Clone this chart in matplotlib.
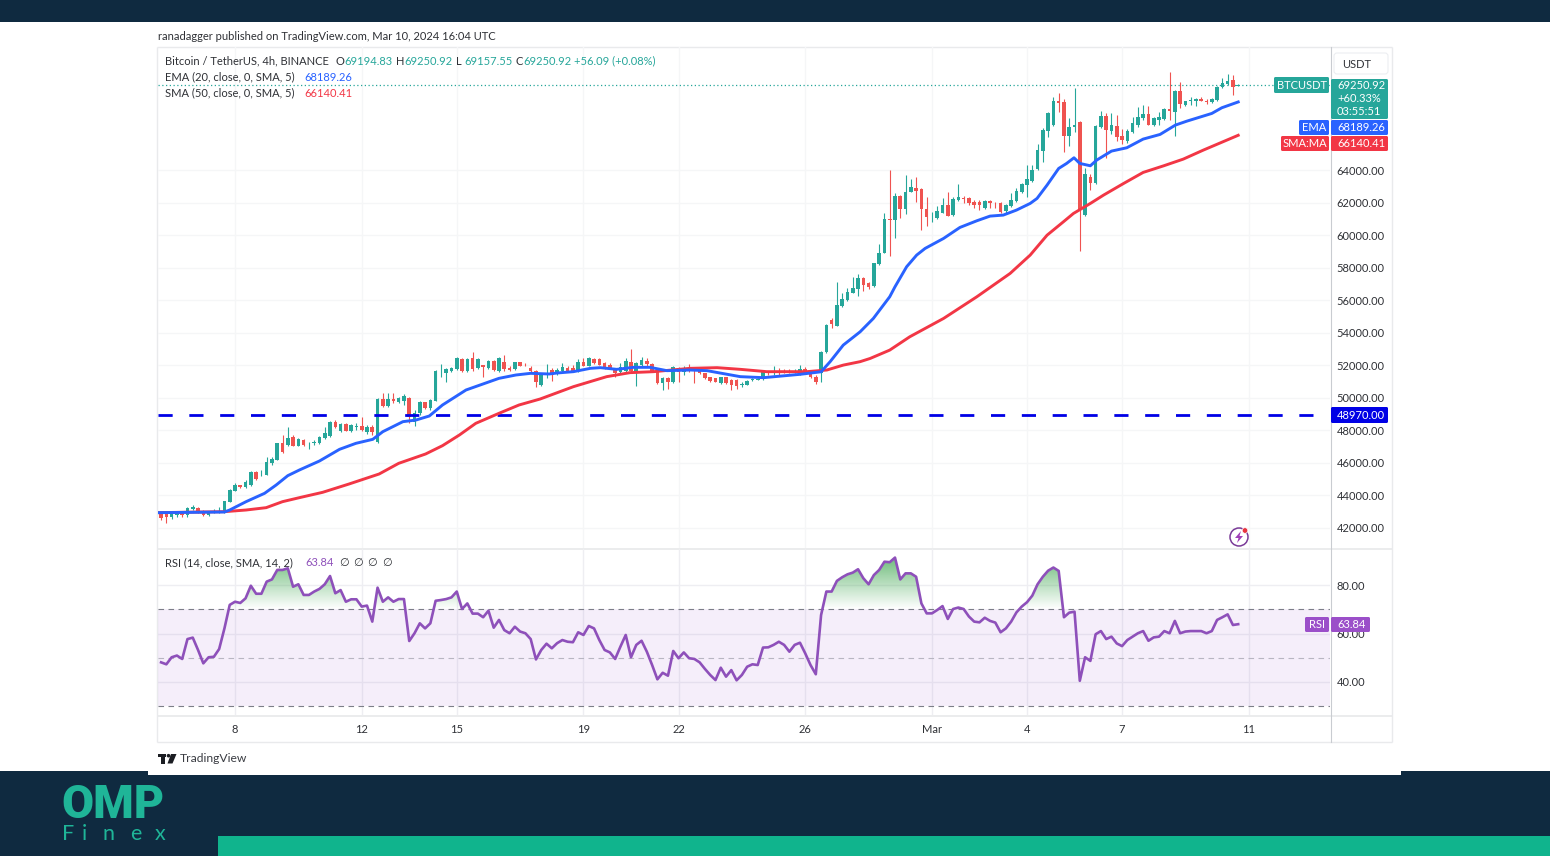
import numpy as np
import matplotlib
matplotlib.use("Agg")
import matplotlib.pyplot as plt
from matplotlib.patches import Rectangle, Polygon, Circle, FancyBboxPatch, PathPatch
from matplotlib.path import Path

# ---------- data ----------
candle_index = list(range(-14, 191))
opens = [42940,42900,42650,42780,42980,42780,43190,43250,43050,42800,42960,42980,43000,43620,
 44300,44620,44500,44620,45460,45240,45260,45980,46180,47200,47100,47570,47060,47410,47200,47200,47250,47510,47650,48540,47980,48390,47980,48230,48270,47920,48230,47310,49910,49500,49910,49770,49830,50010,48540,49050,49720,49360,49830,51630,51510,51670,51750,52370,51670,52430,51810,52000,51810,52290,51670,52230,51810,51750,52180,52040,51860,51670,50790,51400,
 51710,51470,51670,51850,51850,51670,52230,51980,52390,52370,52120,52020,51750,51610,51670,52230,51670,52020,52290,52060,51610,50890,51200,51000,51810,51610,51810,51750,51670,51550,51300,51200,50890,51260,51100,51100,50770,50810,51100,51100,51140,51550,51510,51630,51670,51670,51550,51570,51750,51550,51300,
 51500,52830,54780,54430,55660,56010,56460,56670,57340,57030,56870,58220,58920,60990,60950,62400,61580,62670,62930,62810,61580,61170,61070,61380,61850,61230,62160,62300,62300,62050,62050,61700,62110,61990,61990,61500,61810,62110,62670,63080,63320,
 64060,65170,66400,66800,68240,68160,66110,66620,66930,61230,63590,63180,66620,67340,66400,66730,66110,65780,66360,66800,67180,67440,66800,67110,67130,67750,67590,68860,68000,68240,68240,68400,68260,68200,68300,69120,69270,69530,69194.83]
closes = [42590,42700,42860,42900,42780,43210,43270,43000,42800,42960,43020,43060,43640,44340,
 44620,44540,44850,45460,45010,45280,46080,46220,47200,46670,47550,47060,47470,47100,47250,47300,47570,47820,48540,48210,48390,47980,48330,48290,48020,48230,47920,49910,49500,49910,49830,49970,50110,48800,49050,49750,49360,49870,51670,51670,51750,51810,52430,51670,52370,51750,52370,51920,52290,51710,52430,51750,51710,52180,51980,52000,51670,51000,51400,51510,
 51400,51710,51920,51670,51670,52230,51980,52430,52120,52040,51850,51850,51510,51870,52290,51670,52120,52330,52060,51670,50890,51200,51000,51870,51610,51850,51670,51670,51510,51240,51060,51000,51260,50890,50790,50730,50850,51060,51160,51180,51570,51510,51610,51570,51550,51570,51670,51750,51550,51300,51000,
 52830,54470,54570,55700,56070,56520,56750,57340,56930,56830,58260,58920,60970,60950,62400,61580,62670,62980,62730,61580,61130,61170,61480,61850,61190,62200,62360,62200,61950,61850,61850,62110,61990,61950,61440,61850,62160,62710,63120,63450,64000,
 65230,66460,67480,68260,68100,66110,66660,66770,61540,63730,63180,66700,67340,66460,66770,66050,65840,66400,66870,67260,67440,66800,67180,67280,67750,67630,68860,68040,68240,68300,68340,68240,68160,68360,69120,69330,69470,69120,69250.92]
highs = [42950,42940,42940,42960,43060,43310,43410,43310,43100,43000,43150,43310,43680,44380,
 44790,44640,44950,45480,45500,45570,46380,46340,47250,47720,48230,47720,47550,47450,47300,47410,47650,48190,48580,48640,48470,48430,48410,48430,48840,48350,48330,49970,50320,50280,50320,50070,50240,50070,49250,49780,49750,49930,51710,52080,51820,51920,52490,52430,52470,52800,52430,52040,52330,52330,52490,52640,51960,52220,52220,52120,51950,51710,51510,52060,
 51850,51810,52120,51960,52020,52390,52470,52530,52470,52430,52200,52120,51810,52120,52430,53020,52220,52530,52430,52120,51670,51300,51300,51960,51870,51960,52060,51810,51670,51410,51200,51080,51300,51080,51140,51140,50970,51100,51200,51220,51670,51670,51960,51850,51750,51750,51790,51990,51870,51390,51380,
 52880,54530,54880,57100,56420,56770,57400,57610,57400,57100,58300,59450,61380,64000,62610,62450,63690,63430,63550,62880,62320,61440,61790,62260,62630,62360,63120,62400,62360,62150,62150,62150,62150,62050,62050,61890,62610,62930,63220,64310,64310,
 65580,66600,67580,68510,68710,68400,67180,69020,67010,64100,63730,66760,67630,67540,67480,67380,66520,66520,67280,67890,68000,67950,67240,67590,67830,70000,68920,69390,68100,68510,68450,68510,68340,68440,69180,69680,69880,69840,69270]
lows = [42500,42330,42570,42700,42700,42650,43100,42940,42740,42740,42900,42940,42940,43580,
 44250,44480,44460,44580,44950,45210,45230,45870,46150,46630,47060,47010,47020,47060,46840,47100,47160,47460,47600,48170,47920,47940,47920,48000,47970,47780,47720,47200,49420,49420,49680,49700,49580,48430,48270,48950,49310,49250,49790,51300,51000,51620,51700,51620,51620,51670,51750,51300,51760,51660,51620,51670,51660,51700,51940,51950,51620,50650,50730,51240,
 51050,51400,51620,51620,51620,51620,51940,51940,52070,51990,51790,51790,51300,51550,51620,51550,50750,51980,51980,51620,50850,50500,50540,50890,51000,51400,51620,50930,51450,51180,51000,50950,50830,50850,50500,50570,50670,50770,51040,51090,51090,51410,51410,51410,51500,51510,51510,51410,51510,51240,50850,
 50990,52770,54310,54390,55600,55970,56420,56260,56580,56690,56830,58180,58880,58710,59800,61030,61330,62630,62050,60310,60560,60780,61020,61340,61150,61190,62120,61950,61850,61640,61540,61620,61700,61700,61340,61380,61750,62050,62610,62320,63240,
 64000,64510,66050,66720,67545,65130,65500,66360,59020,61190,62770,63120,66560,64760,66190,65780,65600,65660,66300,66660,67080,66750,66740,66800,67070,67070,66110,67830,67950,67990,67950,68240,68080,68130,68260,69060,69220,68610,69157.55]

ema_index = [-14.6,-2,-1,2.1,5.6,7.8,10,12.2,16,19.8,22.9,26.1,28,31.8,34.3,36.8,39.3,43.75,50,53.2,56,59.5,
 61,64.1,67.3,69.2,72.3,75.5,78.6,81.8,86.2,89.4,95.7,100.1,107,111,112.7,115.2,118.4,120.9,124,125,127.2,129.1,130.7,134.2,137.3,140.5,143,145.5,148,150.6,151.9,153.8,156,157.5,158.9,160,162,163.2,166,168.9,172,175.2,178.1,180.3,185,186.9,190]
ema_values = [42943,42984,43107,43619,44132,44644,45218,45566,46119,46837,47205,47451,47922,48536,48639,48885,49561,50483,51200,51405,51508,51467,
 51528,51610,51815,51856,51753,51876,51876,51671,51712,51671,51303,51241,51446,51603,52218,53243,54062,54882,56214,56829,58058,58775,59185,59800,60476,60885,61172,61234,61541,61951,62258,63078,64102,64410,64758,64410,64266,64615,65168,65373,65906,66192,66766,67012,67483,67832,68189.26]
sma_index = [-14.6,-2,2.1,5.9,9,12.2,16.6,21.6,27.3,31,36.1,39.3,42.5,45.6,50,53.8,57.8,64.1,70.4,74.8,79.3,86.2,91.3,95.7,100.7,108.3,112.1,115.2,118.4,120.3,124,127.8,134.2,140.5,146.8,150.6,153.8,156.9,158.8,162,164.5,168.3,172,175.9,179.6,183.4,190]
sma_values = [42943,43004,43106,43250,43619,43865,44193,44705,45320,45975,46550,47061,47717,48434,49050,49562,49930,50688,51303,51549,51610,51815,51856,51753,51610,51610,51712,52013,52225,52423,52935,53755,54882,56214,57648,58775,60000,60824,61336,61951,62463,63180,63857,64266,64676,65230,66140.41]
rsi_values = [48.1,47.3,50.2,50.9,49.5,57.7,58.3,53.2,47.7,50.2,50.4,53.6,62.1,71.8,73.1,72.6,74.5,79.7,76.4,76.4,81.4,82.3,86.2,86.2,86.9,79.3,80.3,75.9,75.9,77.3,78.4,80.3,83.7,76.6,77.9,73.1,74.1,74.1,71.1,71.5,64.9,78.9,73.1,74.9,73.1,74.2,74.2,56.9,60.1,64.2,62.1,64.2,73.5,73.8,74.2,74.9,77.3,70.1,72.4,68.2,68.2,66.7,69.4,62.4,65.6,61.4,60.1,62.8,60.8,60.1,57.7,49.3,53.2,55.8,53.9,56,57.3,56.6,56.4,60.5,59.4,63.1,62.1,57.3,53.2,52.2,49.5,54.6,59.4,50.2,55.3,57,
 52.5,47,41.1,43.8,42.6,52.8,49.8,52.2,49.8,49.5,48.1,45.4,42.9,40.8,45.9,42.2,44.9,40.7,42.9,46.3,47.3,47,54.2,54.3,55.3,56.6,55.3,52.5,55.3,56.2,51.8,47,43.2,67.6,77.3,77.3,81.7,83.2,84.4,85.1,86.5,82.8,80.3,84.1,86.2,89.6,89.4,91.3,82.3,84.8,84.8,83.4,72.4,68.3,68.3,69.7,71.3,66,70.1,70.7,70.1,67,64.9,64.6,66.5,65.2,64.5,60.5,62.1,64.9,68.7,71.1,72.9,75.6,80.3,83.4,85.9,87.2,85.8,66.7,68.6,69,40.5,50.2,48.7,59.7,61,57.7,58.7,55.9,54.8,57.3,58.7,60.1,
 61,57,58.4,58.7,61,60.1,65.2,60.1,60.8,61,61,61,60.1,61,65.6,66.7,67.9,63.5,63.84]
support_level = 48970
last_close = 69250.92
price_ticks = [42000,44000,46000,48000,50000,52000,54000,56000,58000,60000,62000,64000]
rsi_ticks = [40,60,80]
rsi_levels = [30,50,70]
date_ticks = [0,24,42,66,84,108,132,150,168,192]
date_labels = ["8","12","15","19","22","26","Mar","4","7","11"]

# ---------- style ----------
W, H = 1550, 856
NAVY = "#0f2a40"; TEAL = "#10b48d"; LOGO = "#1fb598"
UP = "#26a69a"; DOWN = "#ef5350"; BLUE = "#2962ff"; RED = "#f23645"; PURPLE = "#8e50ba"
GRID = "#f5f6f7"; FRAME = "#e9eaec"; TXT = "#2f3136"
FONT = "Lato"
plt.rcParams["font.family"] = [FONT, "DejaVu Sans"]
FS = 8.05

fig = plt.figure(figsize=(W/100, H/100), dpi=100, facecolor="white")

def px_axes(x0, y0, x1, y1, z):
    a = fig.add_axes([x0/W, 1-y1/H, (x1-x0)/W, (y1-y0)/H], zorder=z)
    return a

bg = px_axes(0, 0, W, H, 0); bg.set_xlim(0, W); bg.set_ylim(H, 0); bg.axis("off")
fg = px_axes(0, 0, W, H, 10); fg.set_xlim(0, W); fg.set_ylim(H, 0); fg.axis("off"); fg.patch.set_alpha(0)

def rect(a, x0, y0, x1, y1, c, **k):
    a.add_patch(Rectangle((x0, y0), x1-x0, y1-y0, fc=c, ec="none", **k))

rect(bg, 0, 0, W, 22, NAVY)
rect(bg, 0, 771, 148, H, NAVY)
rect(bg, 148, 775, W, H, NAVY)
rect(bg, 1401, 771, W, 775, NAVY)
rect(bg, 218, 836, W, H, TEAL)

# chart frame
for (x0, y0, x1, y1, lw) in [(157, 47, 1392, 47, 1.0), (157, 742, 1392, 742, 1.0), (157, 47, 157, 742, 1.0),
                             (1392, 47, 1392, 742, 1.0), (157, 548.5, 1392, 548.5, 1.3), (157, 715.5, 1392, 715.5, 1.3)]:
    bg.plot([x0, x1], [y0, y1], color=FRAME, lw=lw, solid_capstyle="butt")
bg.plot([1330.5, 1330.5], [47, 742], color="#c9ccd1", lw=0.8)

# ---------- price pane ----------
LEFT, RIGHT = 158, 1330
PT, PB = 47, 548
RT, RB = 549, 715
x_of = lambda px: (px-235)/5.28
y_price = lambda py: 42000+(528-py)*61.47
y_rsi = lambda py: 80-(py-585)/2.425

ax = px_axes(LEFT, PT, RIGHT, PB, 2)
ax.set_xlim(x_of(LEFT), x_of(RIGHT)); ax.set_ylim(y_price(PB), y_price(PT))
ax.patch.set_alpha(0)
ax.set_yticks(price_ticks); ax.set_yticklabels([f"{v:.2f}" for v in price_ticks])
ax.yaxis.tick_right(); ax.set_xticks(date_ticks); ax.tick_params(axis="x", length=0, labelbottom=False)
ax.tick_params(axis="y", length=0, pad=4.6, labelsize=FS, labelcolor=TXT)
ax.grid(True, color=GRID, lw=1.0); ax.set_axisbelow(True)
for s in ax.spines.values(): s.set_visible(False)

o, c, h, l = map(np.array, (opens, closes, highs, lows))
idx = np.array(candle_index)
cols = [UP if cc >= oo else DOWN for oo, cc in zip(o, c)]
ax.vlines(idx, l, h, colors=cols, lw=0.8, zorder=3)
ax.bar(idx, np.maximum(np.abs(c-o), 35), bottom=np.minimum(o, c), width=0.68, color=cols, lw=0, zorder=3)
ax.plot(ax.get_xlim(), [last_close]*2, color=UP, lw=0.9, ls=(0, (1, 2)), zorder=2)
ax.plot(ax.get_xlim(), [support_level]*2, color="#0000e6", lw=2.0, ls=(0, (5.1, 6.0)), zorder=4, dash_capstyle="butt")
ax.plot(sma_index, sma_values, color=RED, lw=2.1, zorder=5, solid_joinstyle="round")
ax.plot(ema_index, ema_values, color=BLUE, lw=2.1, zorder=6, solid_joinstyle="round")

# ---------- RSI pane ----------
ar = px_axes(LEFT, RT, RIGHT, RB, 2)
ar.set_xlim(x_of(LEFT), x_of(RIGHT)); ar.set_ylim(y_rsi(RB), y_rsi(RT))
ar.patch.set_alpha(0)
ar.set_yticks(rsi_ticks); ar.set_yticklabels([f"{v:.2f}" for v in rsi_ticks])
ar.yaxis.tick_right()
ar.set_xticks(date_ticks); ar.set_xticklabels(date_labels)
ar.tick_params(axis="y", length=0, pad=4.6, labelsize=FS, labelcolor=TXT)
ar.tick_params(axis="x", length=0, pad=6.5, labelsize=FS, labelcolor=TXT)
ar.grid(True, color="#eeeef2", lw=1.0); ar.set_axisbelow(True)
for s in ar.spines.values(): s.set_visible(False)
ar.axhspan(rsi_levels[0], rsi_levels[2], color="#8e44c8", alpha=0.085, lw=0, zorder=1)
for lev, col in zip(rsi_levels, ["#7c7e88", "#b8b6c2", "#7c7e88"]):
    ar.axhline(lev, color=col, lw=0.8, ls=(0, (5, 4)), zorder=2)
rsi_idx = np.array(candle_index); rsi = np.array(rsi_values)
# green gradient over the 70 level, clipped under the line
poly = ar.fill_between(rsi_idx, 70, rsi, where=rsi >= 70, interpolate=True, color="none", lw=0)
grad = np.zeros((256, 1, 4))
grad[..., 0], grad[..., 1], grad[..., 2] = 0.18, 0.62, 0.25
grad[:, 0, 3] = np.linspace(0.72, 0, 256)
im = ar.imshow(grad, extent=[rsi_idx[0], rsi_idx[-1], 70, 92], origin="upper", aspect="auto", zorder=2.5)
merged = Path.make_compound_path(*poly.get_paths())
im.set_clip_path(PathPatch(merged, transform=ar.transData))
ar.set_xlim(x_of(LEFT), x_of(RIGHT)); ar.set_ylim(y_rsi(RB), y_rsi(RT))
ar.plot(rsi_idx, rsi, color=PURPLE, lw=1.9, zorder=4, solid_joinstyle="round")

# ---------- texts ----------
def t(x, y, s, color=TXT, ha="left", size=FS, **k):
    fg.text(x, y, s, color=color, ha=ha, va="center", fontsize=size, **k)

t(158, 36, "ranadagger published on TradingView.com, Mar 10, 2024 16:04 UTC")
t(165, 61, "Bitcoin / TetherUS, 4h, BINANCE")
for x, letter, val in [(336, "O", "69194.83"), (396, "H", "69250.92"), (456, "L", "69157.55"), (515, "C", "69250.92")]:
    t(x, 61, letter); t(x+8.5, 61, val, color=UP)
t(574, 61, "+56.09 (+0.08%)", color=UP)
t(165, 77, "EMA (20, close, 0, SMA, 5)"); t(304, 77, "68189.26", color=BLUE)
t(165, 93, "SMA (50, close, 0, SMA, 5)"); t(304, 93, "66140.41", color=RED)
t(165, 563, "RSI (14, close, SMA, 14, 2)"); t(305, 563, "63.84", color=PURPLE)
for x in (344, 358, 372, 387):
    fg.text(x, 563, "\u2205", color=TXT, ha="center", va="center", fontsize=FS, family="DejaVu Sans")

# price scale labels
fg.add_patch(FancyBboxPatch((1334, 53), 54, 21, boxstyle="round,pad=0,rounding_size=3", fc="white", ec="#eceef1", lw=0.8))
t(1342, 64, "USDT")
def box(x0, y0, x1, y1, c): fg.add_patch(FancyBboxPatch((x0, y0), x1-x0, y1-y0, boxstyle="round,pad=0,rounding_size=1.5", fc=c, ec="none"))
box(1274, 77, 1329, 93, UP); t(1301.5, 85, "BTCUSDT", color="white", ha="center")
box(1331, 79, 1388, 119, UP)
t(1337, 85, "69250.92", color="white")
t(1337, 98, "+60.33%", color="white")
t(1337, 111.5, "03:55:51", color="white")
box(1299, 120, 1329, 135, BLUE); t(1314, 127.5, "EMA", color="white", ha="center")
box(1331, 120, 1388, 135, BLUE); t(1337, 127.5, "68189.26", color="white")
box(1281, 136, 1329, 151, RED); t(1305, 143.5, "SMA:MA", color="white", ha="center")
box(1331, 136, 1388, 151, RED); t(1337, 143.5, "66140.41", color="white")
box(1331, 407, 1388, 423, "#0000e6"); t(1337, 415, "48970.00", color="white")
box(1305, 617, 1329, 632, "#9b4fc9"); t(1317, 624.5, "RSI", color="white", ha="center")
box(1331, 617, 1370, 632, "#9b4fc9"); t(1337, 624.5, "63.84", color="white")

# publish icon
fg.add_patch(Circle((1239, 537), 9, fc="none", ec="#7a3b98", lw=1.1))
fg.add_patch(Polygon([(1241, 531), (1235, 538), (1238.5, 538), (1237, 543), (1243, 536), (1239.5, 536)], fc="#a03fb8", ec="none"))
fg.add_patch(Circle((1245, 530.5), 2.8, fc="#e8333f", ec="white", lw=0.5))

# TradingView mark
c_tv = "#1b1d22"
rect(fg, 158, 754, 166, 757.2, c_tv)
rect(fg, 161, 754, 165, 763.5, c_tv)
fg.add_patch(Circle((168.5, 755.7), 1.8, fc=c_tv, ec="none"))
fg.add_patch(Polygon([(171, 754), (176.5, 754), (172.5, 763.5), (167.5, 763.5)], fc=c_tv, ec="none"))
t(180, 758.5, "TradingView", color="#3a3c42", size=8.7)

# logo
fg.text(61, 805.5, "OMP", color=LOGO, fontsize=33.5, fontweight=900, family="Roboto", va="center", ha="left")
for x, ch in [(62, "F"), (82, "i"), (103, "n"), (130, "e"), (155, "x")]:
    fg.text(x, 834, ch, color=LOGO, fontsize=15.5, fontweight="normal", family="Lato", va="center", ha="left")

fig.savefig("out.png", dpi=100, facecolor="white")
